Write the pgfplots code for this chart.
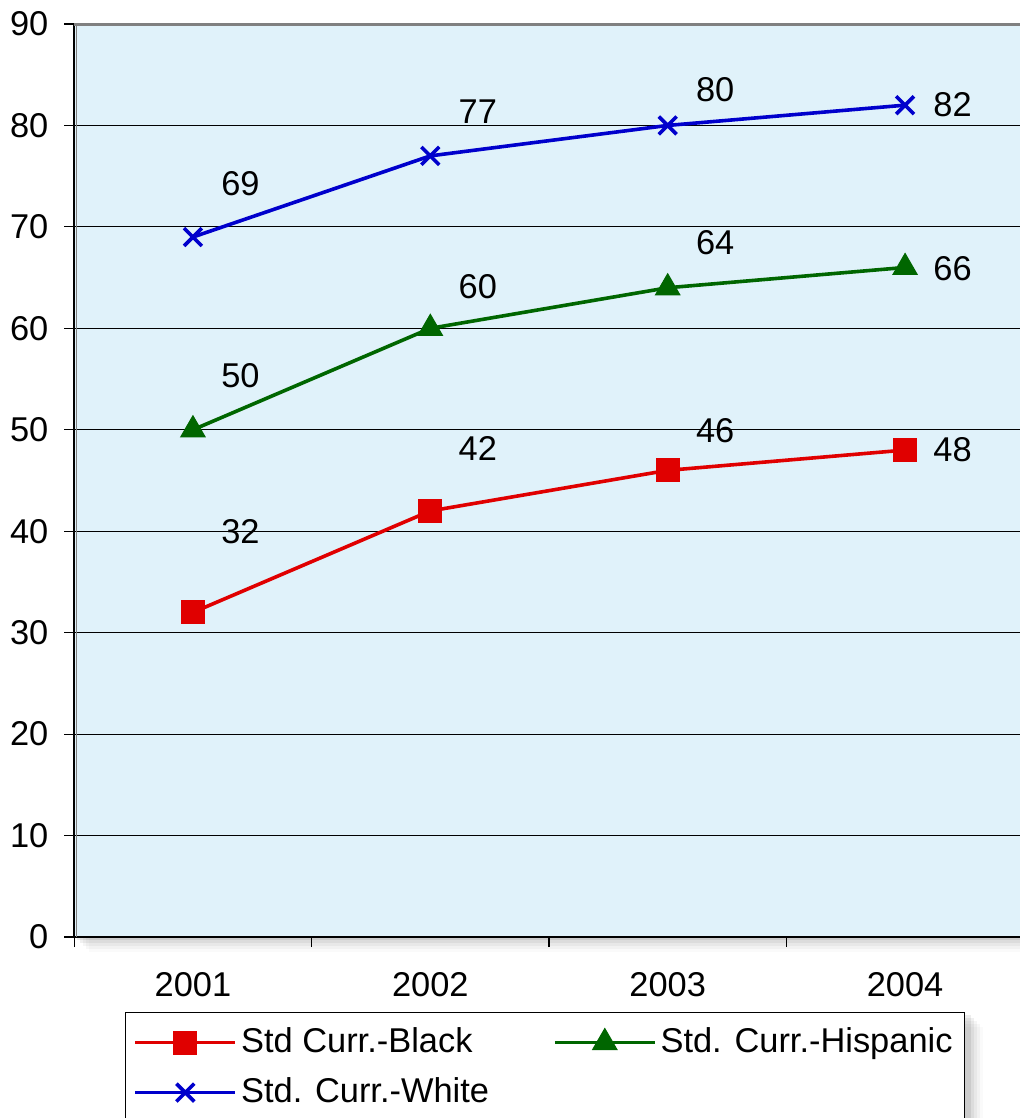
\documentclass[border=0pt]{standalone}
\usepackage{pgfplots}
\pgfplotsset{compat=1.18}
\usepackage{fontspec}
\setmainfont{Liberation Sans}
\definecolor{plotbg}{HTML}{E0F2FA}
\definecolor{cred}{HTML}{E00000}
\definecolor{cgreen}{HTML}{006600}
\definecolor{cblue}{HTML}{0000CC}
\begin{document}
\fontsize{17.2}{19.5}\selectfont
\begin{tikzpicture}
% soft shadows (plot area and legend)
\foreach \o/\a in {1.5pt/0.07,3pt/0.06,4.5pt/0.04,6pt/0.03,7.5pt/0.02}{
  \fill[black,opacity=\a] (\o,-\o) rectangle (474.75pt+\o,456.5pt-\o);
  \fill[black,opacity=\a] (25.375pt+\o,-37.5pt-\o) rectangle (446.875pt+\o,-100pt);
}
\begin{axis}[
    scale only axis,
    width=474.75pt, height=456.5pt,
    xmin=-0.5, xmax=3.5,
    ymin=0, ymax=90,
    axis lines*=left,
    axis line style={black, line width=0.8pt},
    axis background/.style={fill=plotbg},
    xtick={-0.5,0.5,1.5,2.5,3.5},
    x tick label as interval,
    xticklabels={2001,2002,2003,2004},
    ytick={0,10,...,90},
    tick align=outside,
    major tick length=5pt,
    tick style={black, line width=0.6pt},
    ymajorgrids=true,
    major grid style={black, line width=0.5pt},
    xticklabel style={yshift=-7pt},
    yticklabel style={xshift=-2pt},
    /pgf/number format/assume math mode=true,
    tick label style={font=\fontsize{17.2}{19.5}\selectfont},
    clip=false,
    legend columns=2,
    legend cell align=left,
    legend style={at={(0.0535,-0.0821)}, anchor=north west, draw=black,
        line width=0.5pt, fill=white, inner xsep=4pt, inner ysep=5.5pt,
        font=\fontsize{17.2}{19.5}\selectfont, row sep=6pt,
        /tikz/every even column/.append style={column sep=30pt}},
    legend image code/.code={
        \draw[mark repeat=2,mark phase=2,#1] plot coordinates {(0pt,0pt) (25pt,0pt) (50pt,0pt)};
    },
]
\addplot[cred, line width=1.8pt, mark=square*, mark size=5.75pt,
    mark options={solid, fill=cred, line width=0.5pt}]
    coordinates {(0,32)(1,42)(2,46)(3,48)};
\addlegendentry{Std Curr.-Black}
\addplot[cgreen, line width=1.8pt, mark=triangle*, mark size=7pt,
    mark options={solid, fill=cgreen, line width=0.5pt}]
    coordinates {(0,50)(1,60)(2,64)(3,66)};
\addlegendentry{Std. Curr.-Hispanic}
\addplot[cblue, line width=1.8pt, mark=x, mark size=6.3pt,
    mark options={solid, line width=1.8pt}]
    coordinates {(0,69)(1,77)(2,80)(3,82)};
\addlegendentry{Std. Curr.-White}

% data labels
\node at (axis cs:0.2,40.0) {32};
\node at (axis cs:1.2,48.2) {42};
\node at (axis cs:2.2,49.9) {46};
\node at (axis cs:3.2,48.0) {48};
\node at (axis cs:0.2,55.3) {50};
\node at (axis cs:1.2,64.1) {60};
\node at (axis cs:2.2,68.4) {64};
\node at (axis cs:3.2,65.9) {66};
\node at (axis cs:0.2,74.3) {69};
\node at (axis cs:1.2,81.4) {77};
\node at (axis cs:2.2,83.5) {80};
\node at (axis cs:3.2,82.0) {82};
\end{axis}
% grey plot-area border (top and left)
\draw[gray, line width=1.5pt] (0,456.2pt) -- (474.75pt,456.2pt);
\draw[gray, line width=0.8pt] (1.2pt,0) -- (1.2pt,456.5pt);
\pgfresetboundingbox
\path[use as bounding box] (-37.125pt,-90.5pt) rectangle (472.875pt,468.5pt);
\end{tikzpicture}
\end{document}
